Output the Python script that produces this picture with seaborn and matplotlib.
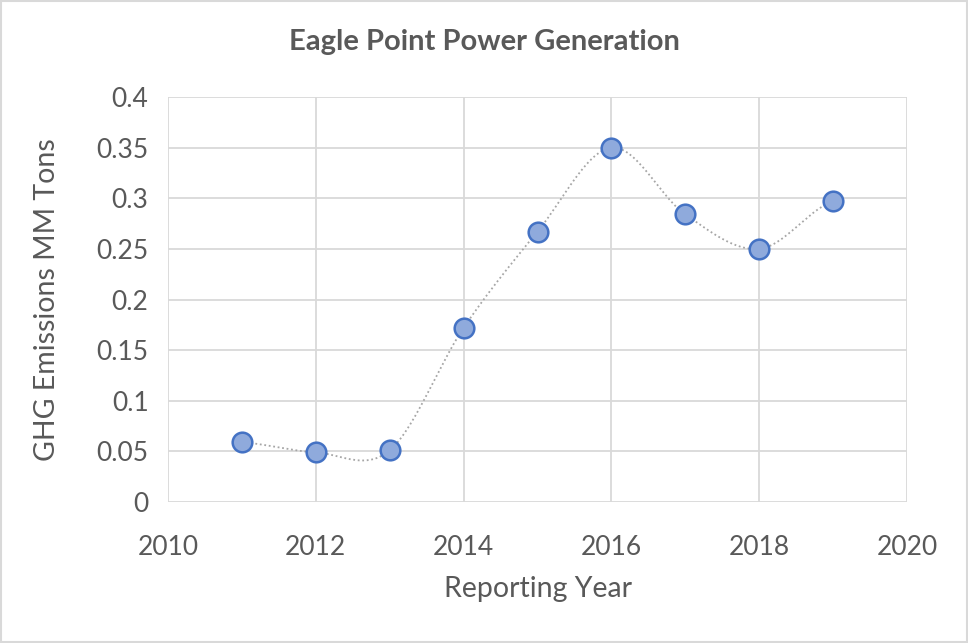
import numpy as np
import pandas as pd
import matplotlib
matplotlib.use("Agg")
import matplotlib.pyplot as plt
import seaborn as sns

years = [2011, 2012, 2013, 2014, 2015, 2016, 2017, 2018, 2019]
emissions = [0.059, 0.049, 0.051, 0.172, 0.267, 0.350, 0.284, 0.250, 0.297]

x_ticks = [2010, 2012, 2014, 2016, 2018, 2020]
y_ticks = [0, 0.05, 0.1, 0.15, 0.2, 0.25, 0.3, 0.35, 0.4]
y_tick_labels = ["0", "0.05", "0.1", "0.15", "0.2", "0.25", "0.3", "0.35", "0.4"]

df = pd.DataFrame({"year": years, "ghg": emissions})

sns.set_style("white")
plt.rcParams['font.family'] = ['Lato', 'DejaVu Sans']


def smooth_curve(xs, ys, n=30):
    # catmull-rom style smoothing, like Excel's "smoothed line"
    xs = np.asarray(xs, float)
    ys = np.asarray(ys, float)
    px = np.concatenate([[2 * xs[0] - xs[1]], xs, [2 * xs[-1] - xs[-2]]])
    py = np.concatenate([[ys[0]], ys, [ys[-1]]])
    outx, outy = [], []
    t = np.linspace(0, 1, n)
    for i in range(1, len(px) - 2):
        p0, p1, p2, p3 = px[i - 1], px[i], px[i + 1], px[i + 2]
        q0, q1, q2, q3 = py[i - 1], py[i], py[i + 1], py[i + 2]
        m1x, m2x = (p2 - p0) / 2, (p3 - p1) / 2
        m1y, m2y = (q2 - q0) / 2, (q3 - q1) / 2
        h00 = 2 * t**3 - 3 * t**2 + 1
        h10 = t**3 - 2 * t**2 + t
        h01 = -2 * t**3 + 3 * t**2
        h11 = t**3 - t**2
        outx.extend(h00 * p1 + h10 * m1x + h01 * p2 + h11 * m2x)
        outy.extend(h00 * q1 + h10 * m1y + h01 * q2 + h11 * m2y)
    return np.array(outx), np.array(outy)


fig = plt.figure(figsize=(9.68, 6.43), dpi=100)
ax = fig.add_axes([168 / 968, 1 - 502 / 643, (907 - 168) / 968, (502 - 97) / 643])

sx, sy = smooth_curve(df["year"], df["ghg"])
ax.plot(sx, sy, color="#a6a6a6", lw=1.3, ls=(0, (1, 1.5)), zorder=2)

sns.scatterplot(data=df, x="year", y="ghg", ax=ax, s=200, color="#8faadc",
                edgecolor="#4472c4", linewidth=1.8, zorder=3, legend=False)

ax.set_xlim(2010, 2020)
ax.set_ylim(0, 0.4)
ax.set_xticks(x_ticks)
ax.set_yticks(y_ticks)
ax.set_yticklabels(y_tick_labels)
ax.grid(True, color="#d9d9d9", lw=1.3)
ax.set_axisbelow(True)
for s in ax.spines.values():
    s.set_visible(False)
ax.tick_params(axis="both", length=0, labelsize=19, labelcolor="#595959")
ax.tick_params(axis="x", pad=24)
ax.tick_params(axis="y", pad=14)

ax.set_xlabel("Reporting Year", fontsize=20.5, color="#595959", labelpad=11)
ax.set_ylabel("GHG Emissions MM Tons", fontsize=20.5, color="#595959", labelpad=26)
fig.text(0.5, 1 - 42 / 643, "Eagle Point Power Generation", ha="center", va="center",
         fontsize=21, fontweight="bold", color="#595959")

fig.patches.append(plt.Rectangle((0.001, 0.001), 0.998, 0.998, transform=fig.transFigure,
                                 fill=False, edgecolor="#d9d9d9", lw=1.5))

fig.savefig("out.png", dpi=100)
